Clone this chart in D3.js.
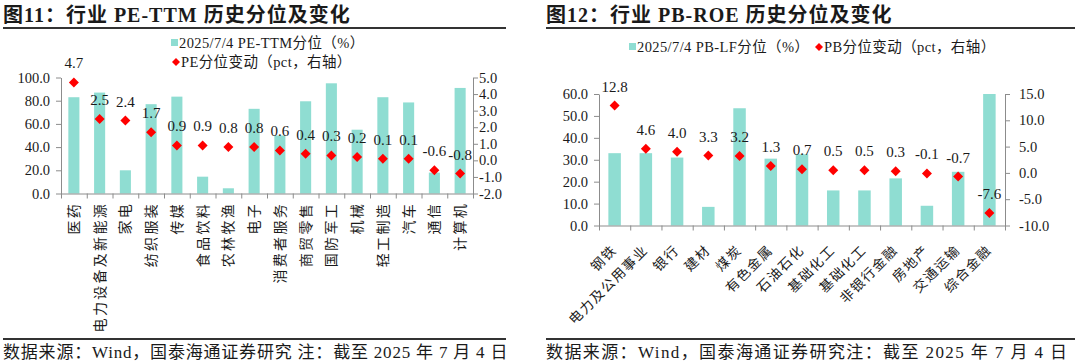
<!DOCTYPE html>
<html lang="zh">
<head>
<meta charset="UTF-8">
<title>行业估值分位</title>
<script src="https://d3js.org/d3.v7.min.js"></script>
<style>
  body { margin: 0; background: #fff; }
  text { font-family: "Liberation Serif", "Noto Sans CJK SC", serif; fill: #1a1a1a; }
</style>
</head>
<body>
<script>
// 图11 数据
var peCats = ["医药", "电力设备及新能源", "家电", "纺织服装", "传媒", "食品饮料", "农林牧渔", "电子",
  "消费者服务", "商贸零售", "国防军工", "机械", "轻工制造", "汽车", "通信", "计算机"];
var pePct = [83, 87, 20, 77, 83.5, 14.5, 4.5, 73, 50, 79.5, 95, 55, 83, 78.5, 18, 91];
var peChg = [4.7, 2.5, 2.4, 1.7, 0.9, 0.9, 0.8, 0.8, 0.6, 0.4, 0.3, 0.2, 0.1, 0.1, -0.6, -0.8];
var peTicksL = [0, 20, 40, 60, 80, 100];
var peTicksR = [-2, -1, 0, 1, 2, 3, 4, 5];

// 图12 数据
var pbCats = ["钢铁", "电力及公用事业", "银行", "建材", "煤炭", "有色金属", "石油石化", "基础化工",
  "基础化工", "非银行金融", "房地产", "交通运输", "综合金融"];
var pbPct = [33, 33, 31, 8.5, 53.5, 30.5, 32.5, 16, 16, 21.5, 9, 24.5, 60];
var pbChg = [12.8, 4.6, 4.0, 3.3, 3.2, 1.3, 0.7, 0.5, 0.5, 0.3, -0.1, -0.7, -7.6];
var pbTicksL = [0, 10, 20, 30, 40, 50, 60];
var pbTicksR = [-10, -5, 0, 5, 10, 15];

var width = 1080, height = 363;
var barColor = "#8fddd2", dotColor = "#ff0000", axisColor = "#8c8c8c";
var fmt = function(d) { return d.toFixed(1); };

var svg = d3.select("body").append("svg").attr("width", width).attr("height", height);

function drawPanel(p) {
  var g = svg.append("g");
  var n = p.cats.length;

  // 标题和上下横线
  g.append("text").attr("x", p.left).attr("y", 22).attr("font-size", 20).attr("font-weight", "bold")
    .style("letter-spacing", "1px").text(p.title);
  g.append("line").attr("x1", p.left).attr("x2", p.right).attr("y1", 28).attr("y2", 28).attr("stroke", "#333").attr("stroke-width", 2);
  g.append("line").attr("x1", p.left).attr("x2", p.right).attr("y1", 339).attr("y2", 339).attr("stroke", "#333").attr("stroke-width", 2);
  g.append("text").attr("x", p.left).attr("y", 358).attr("font-size", 17)
    .style("letter-spacing", p.srcSpacing).text(p.source);

  var x = d3.scaleBand().domain(d3.range(n)).range([p.x0, p.x1]);
  var yL = d3.scaleLinear().domain(p.domL).range([p.y0, p.y1]);
  var yR = d3.scaleLinear().domain(p.domR).range([p.y0, p.y1]);
  var bw = x.bandwidth() * p.barFrac;

  // 柱
  g.selectAll(".bar").data(p.pct).enter().append("rect")
    .attr("x", function(d, i) { return x(i) + (x.bandwidth() - bw) / 2; })
    .attr("y", function(d) { return yL(d); })
    .attr("width", bw)
    .attr("height", function(d) { return yL(0) - yL(d); })
    .attr("fill", barColor);

  // 坐标轴
  var aL = g.append("g").attr("transform", "translate(" + p.x0 + ",0)")
    .call(d3.axisLeft(yL).tickValues(p.ticksL).tickFormat(fmt).tickSize(5).tickSizeOuter(0).tickPadding(p.padL));
  var aR = g.append("g").attr("transform", "translate(" + p.x1 + ",0)")
    .call(d3.axisRight(yR).tickValues(p.ticksR).tickFormat(fmt).tickSize(5).tickSizeOuter(0).tickPadding(p.padR));
  var xb = d3.scaleLinear().domain([0, n]).range([p.x0, p.x1]);
  var aX = g.append("g").attr("transform", "translate(0," + p.y0 + ")")
    .call(d3.axisBottom(xb).tickValues(d3.range(n + 1)).tickFormat("").tickSize(5).tickSizeOuter(0));
  [aL, aR, aX].forEach(function(a) {
    a.selectAll("path, line").attr("stroke", axisColor);
    a.selectAll("text").attr("font-size", 14.5).attr("fill", "#1a1a1a")
      .style("font-family", "'Liberation Serif', serif");
  });

  // 分类标签
  var lab = g.selectAll(".cat").data(p.cats).enter().append("text")
    .attr("font-size", p.labSize)
    .attr("text-anchor", "end")
    .style("letter-spacing", p.labSpacing)
    .text(function(d) { return d; });
  if (p.rot === -90) {
    lab.attr("transform", function(d, i) { return "translate(" + (x(i) + x.bandwidth() / 2) + "," + p.labY + ") rotate(-90)"; })
      .attr("dy", "0.35em");
  } else {
    lab.attr("transform", function(d, i) { return "translate(" + (x(i) + x.bandwidth() / 2 + p.labDx) + "," + p.labY + ") rotate(-45)"; });
  }

  // 菱形点及数值
  var dia = "M0,-5L5,0L0,5L-5,0Z";
  g.selectAll(".dot").data(p.chg).enter().append("path")
    .attr("d", dia)
    .attr("fill", dotColor)
    .attr("transform", function(d, i) { return "translate(" + (x(i) + x.bandwidth() / 2) + "," + yR(d) + ")"; });
  g.selectAll(".val").data(p.chg).enter().append("text")
    .attr("x", function(d, i) { return x(i) + x.bandwidth() / 2; })
    .attr("y", function(d) { return yR(d) - 14; })
    .attr("text-anchor", "middle")
    .attr("font-size", 15)
    .text(fmt);

  // 图例
  p.legend.forEach(function(l) {
    if (l.type === "bar") {
      g.append("rect").attr("x", l.x - 7).attr("y", l.y - 9).attr("width", 7).attr("height", 7).attr("fill", barColor);
    } else {
      g.append("path").attr("d", "M0,-4L4,0L0,4L-4,0Z").attr("fill", dotColor)
        .attr("transform", "translate(" + (l.x - 4) + "," + (l.y - 5) + ")");
    }
    g.append("text").attr("x", l.x + 1).attr("y", l.y).attr("font-size", 14.5)
      .style("letter-spacing", "0.4px").text(l.text);
  });
}

drawPanel({
  title: "图11：行业 PE-TTM 历史分位及变化",
  source: "数据来源：Wind，国泰海通证券研究  注：截至 2025 年 7 月 4 日",
  srcSpacing: "0.8px",
  left: 3, right: 506,
  cats: peCats, pct: pePct, chg: peChg,
  x0: 61, x1: 473, y0: 193.5, y1: 77.5,
  domL: [0, 100], domR: [-2, 5], ticksL: peTicksL, ticksR: peTicksR,
  padL: 6, padR: 1, barFrac: 0.43,
  rot: -90, labY: 202, labSize: 14, labSpacing: "2.3px",
  legend: [
    { type: "bar", x: 178, y: 48, text: "2025/7/4 PE-TTM分位（%）" },
    { type: "dot", x: 180, y: 67, text: "PE分位变动（pct，右轴）" }
  ]
});

drawPanel({
  title: "图12：行业 PB-ROE 历史分位及变化",
  source: "数据来源：Wind，国泰海通证券研究注：截至 2025 年 7 月 4 日",
  srcSpacing: "1.4px",
  left: 546, right: 1075,
  cats: pbCats, pct: pbPct, chg: pbChg,
  x0: 599, x1: 1005, y0: 225.5, y1: 94,
  domL: [0, 60], domR: [-10, 15], ticksL: pbTicksL, ticksR: pbTicksR,
  padL: 6, padR: 9, barFrac: 0.4,
  rot: -45, labY: 251, labDx: 3, labSize: 13.5, labSpacing: "1.5px",
  legend: [
    { type: "bar", x: 636, y: 52, text: "2025/7/4 PB-LF分位（%）" },
    { type: "dot", x: 823, y: 52, text: "PB分位变动（pct，右轴）" }
  ]
});
</script>
</body>
</html>
